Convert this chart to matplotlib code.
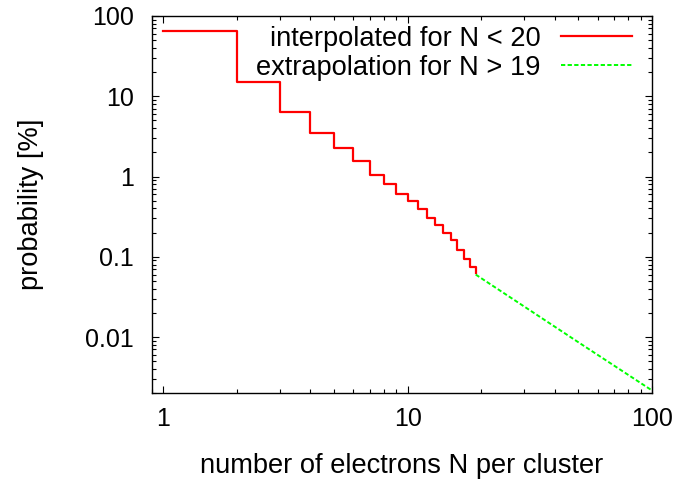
import matplotlib
matplotlib.use("Agg")
import matplotlib.pyplot as plt
from matplotlib.ticker import LogLocator, NullFormatter, FixedLocator, FixedFormatter

plt.rcParams['font.family'] = ['Liberation Sans', 'DejaVu Sans']
plt.rcParams['font.size'] = 19.6

# cluster size distribution, N = 1..19 (step values in %)
n_interp = [1, 2, 3, 4, 5, 6, 7, 8, 9, 10, 11, 12, 13, 14, 15, 16, 17, 18, 19]
p_interp = [65.6, 15.0, 6.4, 3.5, 2.25, 1.55, 1.05, 0.81, 0.61, 0.49,
            0.39, 0.30, 0.25, 0.20, 0.16, 0.12, 0.095, 0.075, 0.062]

# tail for larger clusters
n_extrap = [19, 30, 50, 70, 100]
p_extrap = [0.06, 0.024, 0.0086, 0.0044, 0.00216]

x_ticks = [1, 10, 100]
x_labels = ['1', '10', '100']
y_ticks = [0.01, 0.1, 1, 10, 100]
y_labels = ['0.01', '0.1', '1', '10', '100']

fig = plt.figure(figsize=(6.8, 4.8), dpi=100)
ax = fig.add_axes([0.2235, 0.181, 0.9588 - 0.2235, 0.9667 - 0.181])

ax.plot(n_interp, p_interp, drawstyle='steps-post', color='#ff0000', lw=1.6,
        label='interpolated for N < 20')
ax.plot(n_extrap, p_extrap, color='#00ff00', lw=1.4, dashes=(2.2, 1.2),
        label='extrapolation for N > 19')

ax.set_xscale('log')
ax.set_yscale('log')
ax.set_xlim(0.9, 100)
ax.set_ylim(0.002, 100)

ax.xaxis.set_major_locator(FixedLocator(x_ticks))
ax.xaxis.set_major_formatter(FixedFormatter(x_labels))
ax.yaxis.set_major_locator(FixedLocator(y_ticks))
ax.yaxis.set_major_formatter(FixedFormatter(y_labels))
ax.xaxis.set_minor_locator(LogLocator(base=10, subs=range(2, 10)))
ax.yaxis.set_minor_locator(LogLocator(base=10, subs=range(2, 10)))
ax.xaxis.set_minor_formatter(NullFormatter())
ax.yaxis.set_minor_formatter(NullFormatter())

ax.tick_params(which='both', direction='in', top=True, right=True, width=0.8,
               labelsize=18)
ax.tick_params(which='major', length=5)
ax.tick_params(which='minor', length=3)
ax.tick_params(axis='y', which='major', pad=13)
ax.tick_params(axis='x', which='major', pad=10)
for s in ax.spines.values():
    s.set_linewidth(1.0)

ax.set_xlabel('number of electrons N per cluster', labelpad=16)
ax.set_ylabel('probability [%]', labelpad=30)

ax.legend(loc='upper right', bbox_to_anchor=(0.96, 0.974), frameon=False,
          markerfirst=False, handlelength=2.6, handletextpad=0.75,
          labelspacing=0.1, borderaxespad=0.0, borderpad=0.0)

fig.savefig('out.png', dpi=100)
